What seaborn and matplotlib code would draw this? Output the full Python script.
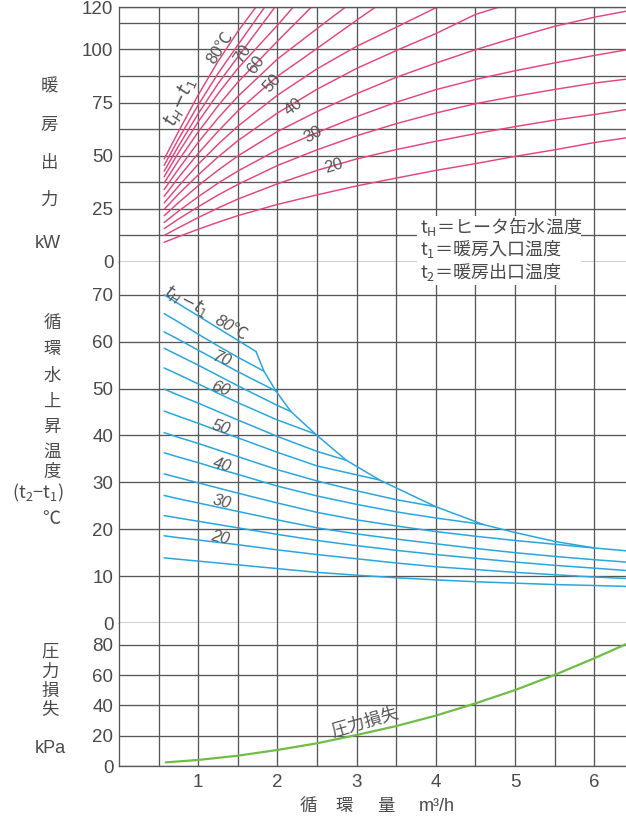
import matplotlib
matplotlib.use("Agg")
import matplotlib.pyplot as plt
from matplotlib.patches import Rectangle
from matplotlib.ticker import FixedLocator
import pandas as pd
import seaborn as sns

# ---------------------------------------------------------------------------
# Data
# ---------------------------------------------------------------------------
# circulation flow (m3/h) at which the heater curves are tabulated
flow_grid = [0.57, 0.75, 1.0, 1.25, 1.5, 2.0, 2.5, 3.0, 3.5, 4.0, 4.5, 5.0, 5.5, 6.0, 6.4]

# heater water temperature minus heating inlet temperature, tH - t1 (℃)
th_minus_t1 = [80, 75, 70, 65, 60, 55, 50, 45, 40, 35, 30, 25, 20, 15]

# temperature rise of the circulating water, t2 - t1 (℃), along flow_grid
rise_80 = [70.0, 68.1, 65.5, 62.9, 60.3]
rise_75 = [66.0, 64.2, 61.6, 59.1, 56.7]
rise_70 = [62.1, 60.5, 58.2, 55.9, 53.6]
rise_65 = [58.6, 57.1, 55.0, 52.8, 50.6, 46.4]
rise_60 = [54.4, 53.0, 51.0, 49.0, 47.0, 43.3]
rise_55 = [49.9, 48.6, 46.9, 45.1, 43.3, 39.8, 36.6]
rise_50 = [45.2, 44.1, 42.6, 41.0, 39.5, 36.4, 33.5, 31.6]
rise_45 = [40.6, 39.6, 38.3, 36.9, 35.5, 32.7, 30.3, 28.2, 26.3]
rise_40 = [36.3, 35.4, 34.2, 32.9, 31.7, 29.2, 27.1, 25.3, 23.7, 22.4]
rise_35 = [31.8, 31.0, 29.9, 28.8, 27.7, 25.6, 23.6, 22.0, 20.7, 19.5, 18.5, 17.6, 16.8]
rise_30 = [27.2, 26.5, 25.6, 24.7, 23.8, 22.0, 20.3, 19.0, 17.9, 16.9, 15.9, 15.0, 14.2, 13.5, 13.0]
rise_25 = [22.9, 22.4, 21.7, 21.0, 20.3, 18.9, 17.6, 16.5, 15.5, 14.6, 13.8, 13.0, 12.3, 11.7, 11.2]
rise_20 = [18.6, 18.2, 17.7, 17.2, 16.7, 15.6, 14.6, 13.7, 12.8, 12.0, 11.4, 10.8, 10.3, 9.8, 9.5]
rise_15 = [13.9, 13.6, 13.2, 12.8, 12.4, 11.6, 10.8, 10.2, 9.65, 9.2, 8.8, 8.5, 8.2, 8.0, 7.8]

# where each rise curve meets the heater capacity limit (None: runs to the edge)
rise_end_flow = [1.73, 1.83, 1.98, 2.17, 2.48, 2.87, 3.29, 4.0, 4.6, 6.0, None, None, None, None]
rise_end_temp = [57.9, 53.7, 49.5, 45.1, 40.3, 34.7, 30.5, 24.8, 21.0, 16.0, None, None, None, None]

# heater capacity limit line in the temperature-rise panel
limit_flow = [1.73, 1.83, 1.98, 2.17, 2.48, 2.87, 3.29, 4.0, 4.6, 5.0, 5.5, 6.0, 6.4]
limit_rise = [57.9, 53.7, 49.5, 45.1, 40.3, 34.7, 30.5, 24.8, 21.0, 19.3, 17.4, 16.0, 15.4]

# heating output (kW) along flow_grid
out_80 = [48.5, 61.3, 78.6, 94.4, 108.5]
out_75 = [45.5, 57.8, 73.9, 88.7, 102.1]
out_70 = [42.7, 54.5, 69.8, 83.9, 96.5]
out_65 = [40.1, 51.4, 66.0, 79.2, 91.1, 111.4]
out_60 = [37.2, 47.7, 61.2, 73.5, 84.6, 103.9]
out_55 = [34.1, 43.7, 56.3, 67.7, 77.9, 95.5, 109.8]
out_50 = [30.9, 39.7, 51.1, 61.5, 71.1, 87.4, 100.5, 113.8]
out_45 = [27.8, 35.6, 46.0, 55.4, 63.9, 78.5, 90.9, 101.5, 110.5]
out_40 = [24.8, 31.9, 41.0, 49.4, 57.1, 70.1, 81.3, 91.1, 99.5, 107.5, 116.5]
out_35 = [21.8, 27.9, 35.9, 43.2, 49.9, 61.4, 70.8, 79.2, 86.9, 93.6, 99.9, 105.6, 110.9, 115.2, 118.0]
out_30 = [18.6, 23.9, 30.7, 37.1, 42.8, 52.8, 60.9, 68.4, 75.2, 81.1, 85.9, 90.0, 93.7, 97.2, 99.8]
out_25 = [15.7, 20.2, 26.0, 31.5, 36.5, 45.4, 52.8, 59.4, 65.1, 70.1, 74.5, 78.0, 81.2, 84.2, 86.0]
out_20 = [12.5, 16.1, 20.9, 25.4, 29.6, 36.8, 43.1, 48.5, 52.9, 56.8, 60.4, 63.7, 66.8, 69.4, 71.7]
out_15 = [9.3, 11.9, 15.4, 18.7, 21.8, 27.1, 31.6, 35.8, 39.5, 43.1, 46.3, 49.7, 52.8, 56.2, 58.4]

# where each output curve leaves the top of the chart (None: runs to the edge)
out_end_flow = [1.73, 1.84, 1.97, 2.2, 2.43, 2.86, 3.24, 4.02, 4.8, None, None, None, None, None]
out_end_kw = [120, 120, 120, 120, 120, 120, 120, 120, 120, None, None, None, None, None]

# pressure loss (kPa) against circulation flow (m3/h)
press_flow = [0.59, 1.0, 1.5, 2.0, 2.5, 3.0, 3.5, 4.0, 4.5, 5.0, 5.5, 6.0, 6.4]
press_kpa = [2.4, 4.0, 6.8, 10.6, 15.0, 20.5, 26.4, 33.3, 41.4, 50.2, 60.2, 71.2, 80.5]

x_ticks = [1, 2, 3, 4, 5, 6]
out_ticks = [0, 25, 50, 75, 100, 120]
rise_ticks = [0, 10, 20, 30, 40, 50, 60, 70]
press_ticks = [0, 20, 40, 60, 80]

rise_curves = [rise_80, rise_75, rise_70, rise_65, rise_60, rise_55, rise_50,
               rise_45, rise_40, rise_35, rise_30, rise_25, rise_20, rise_15]
out_curves = [out_80, out_75, out_70, out_65, out_60, out_55, out_50,
              out_45, out_40, out_35, out_30, out_25, out_20, out_15]


def long_form(curves, end_x, end_y, name):
    rows = []
    for t, vals, ex, ey in zip(th_minus_t1, curves, end_x, end_y):
        xs = flow_grid[:len(vals)] + ([ex] if ex is not None else [])
        ys = list(vals) + ([ey] if ey is not None else [])
        rows += [(t, x, y) for x, y in zip(xs, ys)]
    return pd.DataFrame(rows, columns=["tdiff", "flow", name])


rise_df = long_form(rise_curves, rise_end_flow, rise_end_temp, "rise")
out_df = long_form(out_curves, out_end_flow, out_end_kw, "output")
limit_df = pd.DataFrame({"flow": limit_flow, "rise": limit_rise})
press_df = pd.DataFrame({"flow": press_flow, "loss": press_kpa})

# ---------------------------------------------------------------------------
# Figure
# ---------------------------------------------------------------------------
sns.set_theme(style="white")
plt.rcParams["font.family"] = ["Liberation Sans", "Noto Sans CJK JP", "DejaVu Sans"]

W, H = 626, 821
PINK = "#e4457d"
BLUE = "#2aa6de"
GREEN = "#6fbd45"
GRID = "#575757"
INK = "#4a4a4a"

fig = plt.figure(figsize=(W / 100, H / 100), dpi=100)
fig.patch.set_facecolor("white")


def px_axes(top, bottom):
    return fig.add_axes([119 / W, 1 - bottom / H, (W - 119) / W, (bottom - top) / H])


ax_out = px_axes(7, 262)
ax_rise = px_axes(262, 623)
ax_loss = px_axes(623, 766)

sns.lineplot(data=out_df, x="flow", y="output", units="tdiff", estimator=None,
             sort=False, color=PINK, lw=1.05, ax=ax_out, legend=False)
sns.lineplot(data=rise_df, x="flow", y="rise", units="tdiff", estimator=None,
             sort=False, color=BLUE, lw=1.1, ax=ax_rise, legend=False)
sns.lineplot(data=limit_df, x="flow", y="rise", sort=False, estimator=None,
             color=BLUE, lw=1.1, ax=ax_rise)
sns.lineplot(data=press_df, x="flow", y="loss", sort=False, estimator=None,
             color=GREEN, lw=1.6, ax=ax_loss)


def frame(ax, ymax, major, minor, show_x=False, top_spine=False):
    ax.set_xlim(0, 6.4)
    ax.set_ylim(0, ymax)
    ax.set_axisbelow(True)
    ax.xaxis.set_major_locator(FixedLocator(x_ticks))
    ax.xaxis.set_minor_locator(FixedLocator([0.5, 1.5, 2.5, 3.5, 4.5, 5.5]))
    ax.yaxis.set_major_locator(FixedLocator(major))
    ax.yaxis.set_minor_locator(FixedLocator(minor))
    ax.grid(which="both", color=GRID, lw=0.95)
    ax.tick_params(which="both", length=0, labelsize=13.5, labelcolor=INK, pad=4)
    ax.tick_params(axis="x", labelbottom=show_x, pad=6)
    ax.set_xlabel("")
    ax.set_ylabel("")
    ax.spines["right"].set_visible(False)
    ax.spines["top"].set_visible(top_spine)
    for s in ("left", "top", "bottom"):
        ax.spines[s].set_color(GRID)
        ax.spines[s].set_linewidth(0.95)


frame(ax_out, 120, out_ticks, [12.5, 37.5, 62.5, 87.5, 112.5], top_spine=True)
frame(ax_rise, 77, rise_ticks, [])
frame(ax_loss, 94.5, press_ticks, [], show_x=True)

# curve labels, heating output panel
lab = dict(color="#555555", ha="center", va="center", rotation_mode="anchor", fontsize=12)
ax_out.text(0.78, 75, r"$t_H\!-\!t_1$", rotation=66, fontsize=13.5, color="#555555",
            ha="center", va="center", rotation_mode="anchor")
for txt, x, y, r in [("80℃", 1.27, 101, 57), ("70", 1.56, 98, 56), ("60", 1.73, 93, 54),
                     ("50", 1.94, 84, 48), ("40", 2.2, 73, 36), ("30", 2.45, 60, 30),
                     ("20", 2.71, 45, 17)]:
    ax_out.text(x, y, txt, rotation=r, **lab)

# curve labels, temperature rise panel
ax_rise.text(0.86, 68.6, r"$t_H\!-\!t_1$", rotation=-27, fontsize=12.5, color="#555555",
             ha="center", va="center", rotation_mode="anchor")
for txt, x, y, r in [("80℃", 1.42, 63.0, -30), ("70", 1.3, 56.3, -22), ("60", 1.28, 49.9, -20),
                     ("50", 1.28, 41.6, -18), ("40", 1.3, 33.7, -16), ("30", 1.3, 25.9, -15),
                     ("20", 1.28, 18.3, -13)]:
    ax_rise.text(x, y, txt, rotation=r, style="italic", **lab)

# curve label, pressure loss panel
ax_loss.text(3.1, 29, "圧力損失", rotation=16, fontsize=12.5, color="#555555",
             ha="center", va="center", rotation_mode="anchor")


def ftext(x, y, s, **kw):
    kw.setdefault("color", INK)
    kw.setdefault("ha", "center")
    kw.setdefault("va", "center")
    fig.text(x / W, 1 - y / H, s, **kw)


# vertical axis titles
for ch, y in [("暖", 86), ("房", 125), ("出", 163), ("力", 200)]:
    ftext(49, y, ch, fontsize=12.5)
ftext(48, 243, "kW", fontsize=13)

for ch, y in [("循", 323), ("環", 349), ("水", 376), ("上", 402), ("昇", 427),
              ("温", 452), ("度", 472)]:
    ftext(52, y, ch, fontsize=12.5)
ftext(38, 493, r"($\mathregular{t_2}$−$\mathregular{t_1}$)", fontsize=13,
      family="Noto Sans CJK JP")
ftext(51, 520, "℃", fontsize=13)

for ch, y in [("圧", 652), ("力", 672), ("損", 691), ("失", 710)]:
    ftext(50, y, ch, fontsize=12.5)
ftext(50, 748, "kPa", fontsize=13)

# horizontal axis title
for s, x in [("循", 308), ("環", 344), ("量", 386)]:
    ftext(x, 806, s, fontsize=12.5)
ftext(437, 806, "m³/h", fontsize=13)

# symbol key on a white panel
fig.patches.append(Rectangle((417 / W, 1 - 285 / H), 164 / W, 69 / H,
                             transform=fig.transFigure, facecolor="white",
                             edgecolor="none", zorder=2))
for s, y in [(r"$\mathregular{t_H}$＝ヒータ缶水温度", 226),
             (r"$\mathregular{t_1}$＝暖房入口温度", 249),
             (r"$\mathregular{t_2}$＝暖房出口温度", 272)]:
    ftext(420, y, s, fontsize=13, ha="left", family="Noto Sans CJK JP", zorder=3)

fig.savefig("out.png", dpi=100, facecolor="white")
